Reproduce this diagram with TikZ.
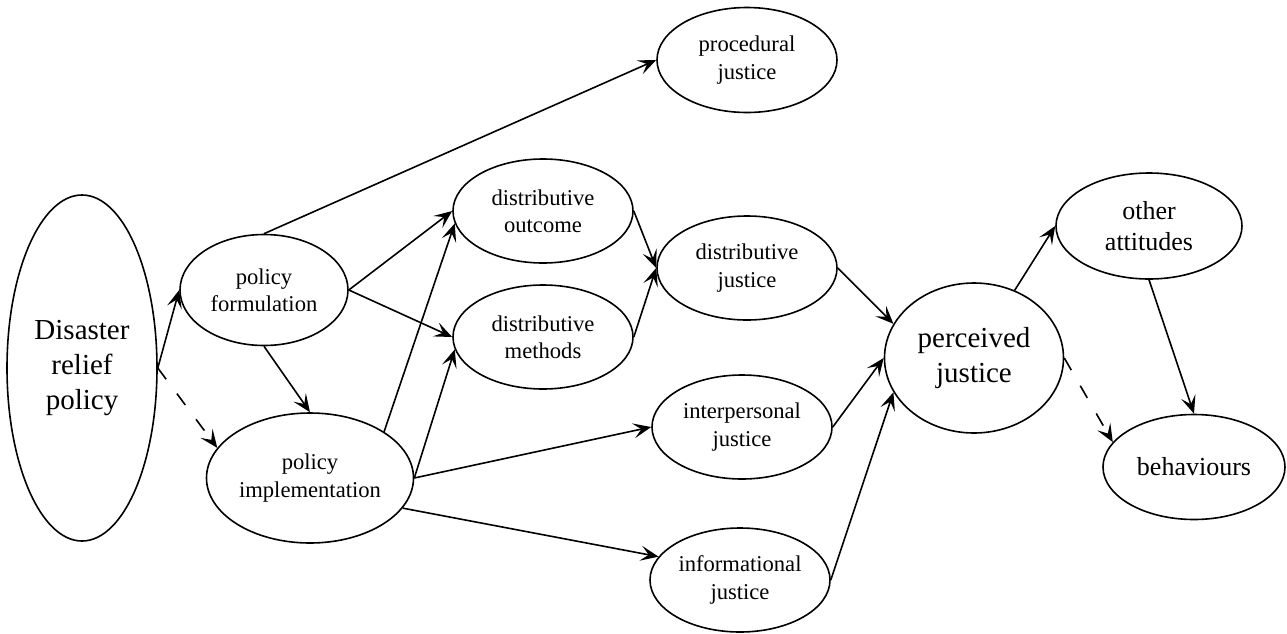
\documentclass[tikz,border=0pt]{standalone}
\usepackage{fontspec}
\setmainfont{Liberation Serif}
\usepackage{tikz}
\usetikzlibrary{shapes,arrows.meta,calc}
\tikzstyle{line} = [draw, line width=0.8pt, -{Stealth[length=9pt,width=7.5pt,inset=4pt]}]
\tikzstyle{dashline} = [line, dash pattern=on 7pt off 9pt]
\tikzstyle{bubble} = [draw, ellipse, line width=0.8pt, text centered, align=center, inner sep=0pt, minimum width=90pt, minimum height=52pt, font=\fontsize{11.3}{13.6}\selectfont]
\tikzstyle{midbubble} = [bubble, font=\fontsize{13}{15.6}\selectfont]
\tikzstyle{bigbubble} = [bubble, font=\fontsize{14.5}{17.5}\selectfont]

\begin{document}
\begin{tikzpicture}[x=0.5pt, y=-0.5pt]
        \useasboundingbox (0,0) rectangle (1287,633);
        \node[bigbubble, minimum width=75pt, minimum height=173pt] (relief) at (82,368) {Disaster\\relief\\policy};
        \node[bubble, minimum width=84pt, minimum height=55.5pt] (form) at (264,290) {policy\\formulation};
        \node[bubble, minimum width=103.5pt, minimum height=65pt] (impl) at (310,478) {policy\\implementation};
        \node[bubble, minimum height=52.5pt] (proc) at (747,60) {procedural\\justice};
        \node[bubble] (outcome) at (543,211) {distributive\\outcome};
        \node[bubble] (methods) at (543,337) {distributive\\methods};
        \node[bubble] (distj) at (747,268) {distributive\\justice};
        \node[bubble] (interj) at (742,427) {interpersonal\\justice};
        \node[bubble] (infoj) at (740,580) {informational\\justice};
        \node[bigbubble, minimum width=89.5pt, minimum height=75pt] (perc) at (974,358) {perceived\\justice};
        \node[midbubble, minimum width=93pt, minimum height=53pt] (attit) at (1149,226) {other\\attitudes};
        \node[midbubble, minimum width=91pt, minimum height=52.5pt] (behav) at (1194,467) {behaviours};
        \path[line] (relief.east) -- (form.west);
        \path[dashline] (relief.east) -- (impl.162);
        \path[line] (form.south) -- (impl.north);
        \path[line] (form.north) -- (proc.west);
        \path[line] (form.east) -- (outcome.west);
        \path[line] (form.east) -- (methods.west);
        \path[line] (impl.32) -- (outcome.188);
        \path[line] (impl.east) -- (methods.188);
        \path[line] (impl.east) -- (interj.west);
        \path[line] (impl.-18) -- (infoj.164);
        \path[line] (outcome.east) -- (distj.west);
        \path[line] (methods.east) -- (distj.west);
        \path[line] (distj.east) -- (perc.157);
        \path[line] (interj.east) -- (perc.west);
        \path[line] (infoj.east) -- (perc.203);
        \path[line] (perc.59) -- (attit.west);
        \path[dashline] (perc.east) -- (behav.163);
        \path[line] (attit.south) -- (behav.north);
    \end{tikzpicture}
\end{document}
